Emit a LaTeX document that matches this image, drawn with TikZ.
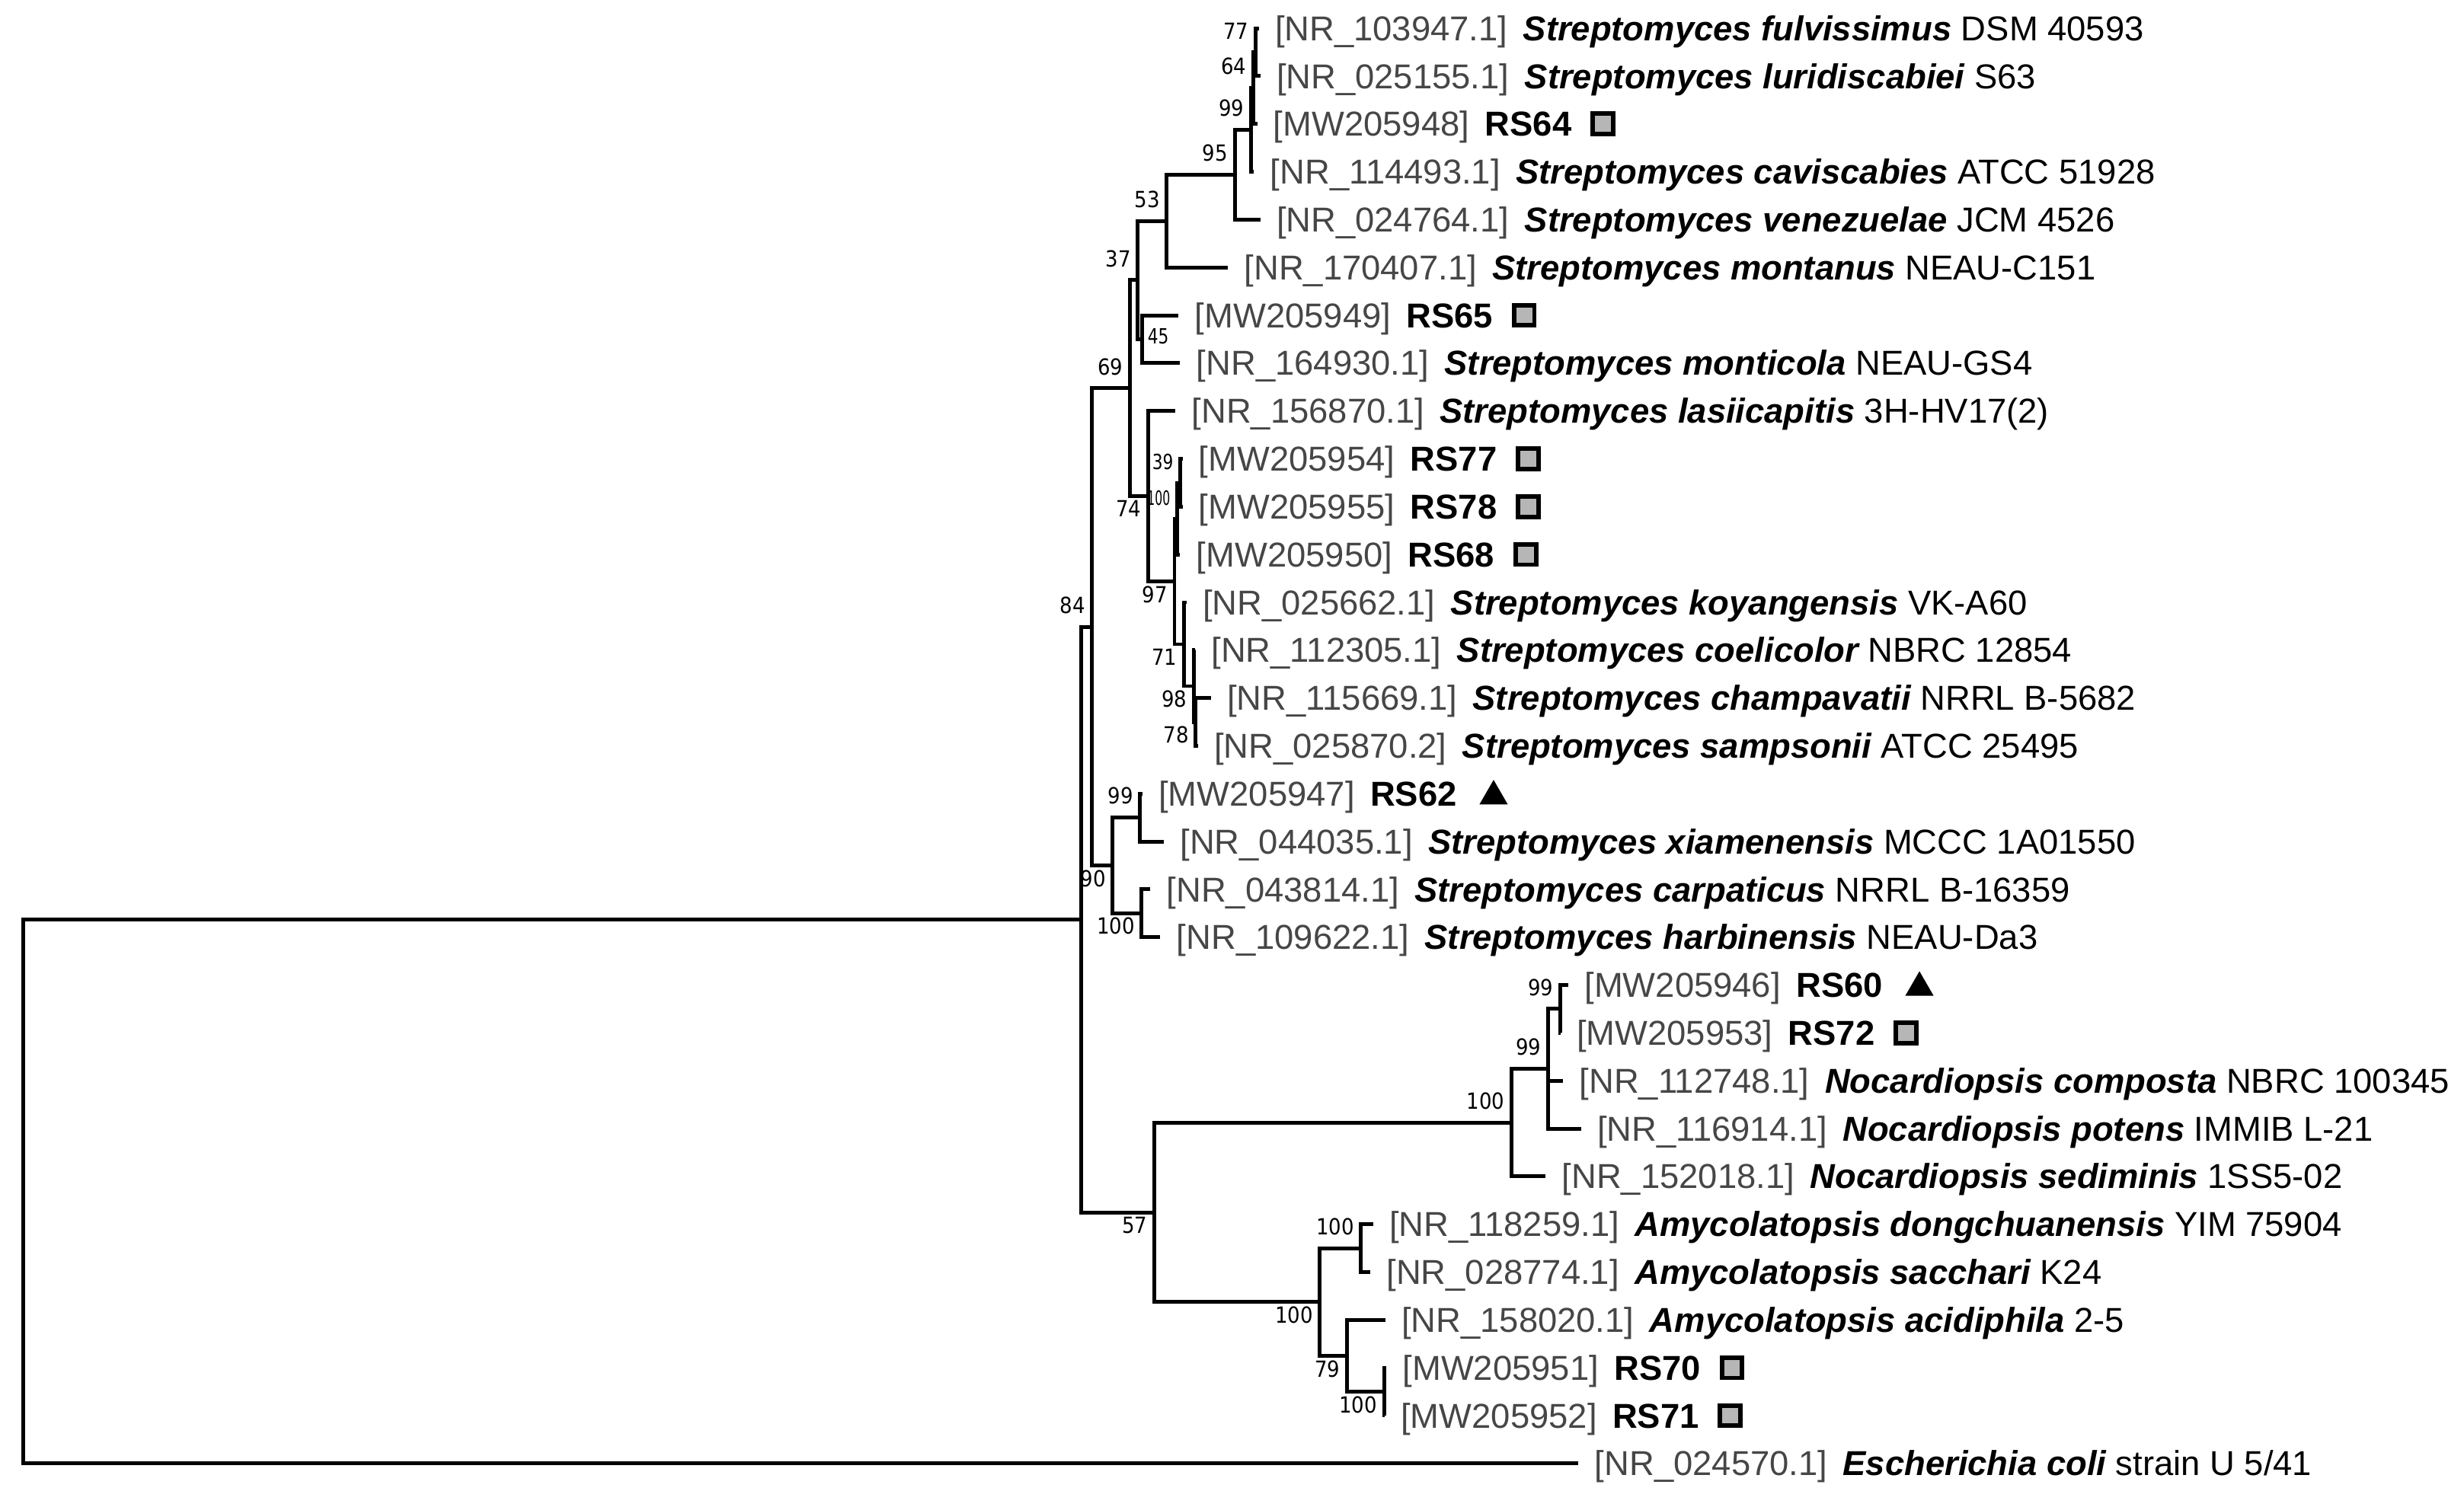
\documentclass[tikz,border=0pt]{standalone}
\usepackage{fontspec}
\setmainfont{Liberation Sans}
\newfontfamily\bsfont[FakeStretch=0.89]{DejaVu Sans}
\newfontfamily\bsfontc[FakeStretch=0.79]{DejaVu Sans}
\newfontfamily\bsfontt[FakeStretch=0.6]{DejaVu Sans}
\usetikzlibrary{shapes.geometric}
\definecolor{accgray}{RGB}{70,70,70}
\definecolor{markgray}{RGB}{182,182,182}
\newcommand{\myacc}[1]{{\color{accgray}[#1]}\hspace{0.45em}}
\newcommand{\mysp}[1]{{\bfseries\itshape #1}}
\newcommand{\mybd}[1]{{\bfseries #1}}
\begin{document}
\begin{tikzpicture}[x=0.5pt, y=-0.5pt,
  br/.style={line width=1.2pt},
  lab/.style={anchor=base west, inner sep=0pt, xshift=5pt, yshift=-3.9pt, font=\fontsize{11}{13}\selectfont},
  bsa/.style={anchor=south east, inner sep=0pt, xshift=-2pt, yshift=4pt, font=\bsfont\fontsize{7.07}{8}\selectfont},
  bsb/.style={anchor=north east, inner sep=0pt, xshift=-2pt, yshift=-1.25pt, font=\bsfont\fontsize{7.07}{8}\selectfont},
  bss/.style={inner sep=0pt, font=\bsfontc\fontsize{6.65}{7}\selectfont},
  sqmark/.style={draw=black, fill=markgray, line width=1.45pt, minimum size=6.45pt, inner sep=0pt, anchor=west, xshift=5.8pt},
  trimark/.style={fill=black, regular polygon, regular polygon sides=3, minimum size=10.4pt, inner sep=0pt, xshift=11.5pt, yshift=-0.8pt},
]
\useasboundingbox (0,0) rectangle (1568,959);

% ---------- leaves ----------
\coordinate (l1) at (801,18.0);
\coordinate (l2) at (802,48.45);
\coordinate (l3) at (800,78.9);
\coordinate (l4) at (798,109.35);
\coordinate (l5) at (802,139.8);
\coordinate (l6) at (781.4,170.25);
\coordinate (l7) at (750,200.7);
\coordinate (l8) at (751,231.15);
\coordinate (l9) at (748,261.6);
\coordinate (l10) at (752.5,292.05);
\coordinate (l11) at (752.5,322.5);
\coordinate (l12) at (751,352.95);
\coordinate (l13) at (755,383.4);
\coordinate (l14) at (760.5,413.85);
\coordinate (l15) at (770.6,444.3);
\coordinate (l16) at (762.3,474.75);
\coordinate (l17) at (727,505.2);
\coordinate (l18) at (740.6,535.65);
\coordinate (l19) at (732,566.1);
\coordinate (l20) at (738.4,596.55);
\coordinate (l21) at (998,627.0);
\coordinate (l22) at (993,657.45);
\coordinate (l23) at (994.7,687.9);
\coordinate (l24) at (1006,718.35);
\coordinate (l25) at (983.6,748.8);
\coordinate (l26) at (873.7,779.25);
\coordinate (l27) at (872,809.7);
\coordinate (l28) at (881.5,840.15);
\coordinate (l29) at (882.2,870.6);
\coordinate (l30) at (881.1,901.05);
\coordinate (l31) at (1004.5,931.5);

% ---------- internal nodes ----------
\coordinate (root) at (15,758.4);
\coordinate (v1) at (688,585.3);
\coordinate (n84) at (695,399.0);
\coordinate (n69) at (719,247.1);
\coordinate (n37) at (724,178.3);
\coordinate (n53) at (742.5,140.75);
\coordinate (n95) at (785.7,111.25);
\coordinate (n99c) at (796,82.7);
\coordinate (n64c) at (797.5,56.05);
\coordinate (n77c) at (799,33.2);
\coordinate (n45) at (727,215.9);
\coordinate (n74) at (730.5,315.85);
\coordinate (n97) at (747.4,370.1);
\coordinate (n100b) at (749,330.1);
\coordinate (n39) at (751,307.3);
\coordinate (n71) at (753.3,410.05);
\coordinate (n98) at (759.7,436.7);
\coordinate (n78) at (760.8,459.5);
\coordinate (n90) at (708.1,550.85);
\coordinate (n99x) at (725.4,520.4);
\coordinate (n100y) at (726.5,581.3);
\coordinate (n57) at (734.5,771.65);
\coordinate (n100n) at (961.8,714.55);
\coordinate (n99n) at (985,680.3);
\coordinate (n99r) at (992.8,642.2);
\coordinate (n100a) at (839.8,828.75);
\coordinate (n100d) at (866,794.5);
\coordinate (n79) at (857,863.0);
\coordinate (n100e) at (880.7,885.8);

% ---------- branches ----------
\draw[br] (root) |- (v1);
\draw[br] (root) |- (l31);
\draw[br] (v1) |- (n84);
\draw[br] (v1) |- (n57);
\draw[br] (n84) |- (n69);
\draw[br] (n84) |- (n90);
\draw[br] (n69) |- (n37);
\draw[br] (n69) |- (n74);
\draw[br] (n37) |- (n53);
\draw[br] (n37) |- (n45);
\draw[br] (n53) |- (n95);
\draw[br] (n53) |- (l6);
\draw[br] (n95) |- (n99c);
\draw[br] (n95) |- (l5);
\draw[br] (n99c) |- (n64c);
\draw[br] (n99c) |- (l4);
\draw[br] (n64c) |- (n77c);
\draw[br] (n64c) |- (l3);
\draw[br] (n77c) |- (l1);
\draw[br] (n77c) |- (l2);
\draw[br] (n45) |- (l7);
\draw[br] (n45) |- (l8);
\draw[br] (n74) |- (l9);
\draw[br] (n74) |- (n97);
\draw[br] (n97) |- (n100b);
\draw[br] (n97) |- (n71);
\draw[br] (n100b) |- (n39);
\draw[br] (n100b) |- (l12);
\draw[br] (n39) |- (l10);
\draw[br] (n39) |- (l11);
\draw[br] (n71) |- (l13);
\draw[br] (n71) |- (n98);
\draw[br] (n98) |- (l14);
\draw[br] (n98) |- (n78);
\draw[br] (n78) |- (l15);
\draw[br] (n78) |- (l16);
\draw[br] (n90) |- (n99x);
\draw[br] (n90) |- (n100y);
\draw[br] (n99x) |- (l17);
\draw[br] (n99x) |- (l18);
\draw[br] (n100y) |- (l19);
\draw[br] (n100y) |- (l20);
\draw[br] (n57) |- (n100n);
\draw[br] (n57) |- (n100a);
\draw[br] (n100n) |- (n99n);
\draw[br] (n100n) |- (l25);
\draw[br] (n99n) |- (n99r);
\draw[br] (n99n) |- (l23);
\draw[br] (n99n) |- (l24);
\draw[br] (n99r) |- (l21);
\draw[br] (n99r) |- (l22);
\draw[br] (n100a) |- (n100d);
\draw[br] (n100a) |- (n79);
\draw[br] (n100d) |- (l26);
\draw[br] (n100d) |- (l27);
\draw[br] (n79) |- (l28);
\draw[br] (n79) |- (n100e);
\draw[br] (n100e) |- (l29);
\draw[br] (n100e) |- (l30);

% ---------- bootstrap values ----------
\node[bsa] (b77) at (n77c) {77};
\node[bsa] (b64) at (n64c) {64};
\node[bsa] (b99c) at (n99c) {99};
\node[bsa] (b95) at (n95) {95};
\node[bsa] (b53) at (n53) {53};
\node[bsa] (b37) at (n37) {37};
\node[bss] (b45) at (737,214) {45};
\node[bsa] (b69) at (n69) {69};
\node[bsb] (b74) at (n74) {74};
\node[bsa, font=\bsfontc\fontsize{6.65}{7}\selectfont] (b39) at (n39) {39};
\node[bsa, font=\bsfontt\fontsize{6.3}{7}\selectfont] (b100b) at (n100b) {100};
\node[bsb] (b97) at (n97) {97};
\node[bsb] (b71) at (n71) {71};
\node[bsb] (b98) at (n98) {98};
\node[bsb] (b78) at (n78) {78};
\node[bsa] (b84) at (n84) {84};
\node[bsa] (b99x) at (n99x) {99};
\node[bsb] (b90) at (n90) {90};
\node[bsb] (b100y) at (n100y) {100};
\node[bsb] (b57) at (n57) {57};
\node[bsa] (b100n) at (n100n) {100};
\node[bsa] (b99n) at (n99n) {99};
\node[bsa] (b99r) at (n99r) {99};
\node[bsb] (b100a) at (n100a) {100};
\node[bsa] (b100d) at (n100d) {100};
\node[bsb] (b79) at (n79) {79};
\node[bsb] (b100e) at (n100e) {100};

% ---------- taxon labels ----------
\node[lab] (t1) at (l1) {\myacc{NR\_103947.1}\mysp{Streptomyces fulvissimus} DSM 40593};
\node[lab] (t2) at (l2) {\myacc{NR\_025155.1}\mysp{Streptomyces luridiscabiei} S63};
\node[lab] (t3) at (l3) {\myacc{MW205948}\mybd{RS64}};
\node[lab] (t4) at (l4) {\myacc{NR\_114493.1}\mysp{Streptomyces caviscabies} ATCC 51928};
\node[lab] (t5) at (l5) {\myacc{NR\_024764.1}\mysp{Streptomyces venezuelae} JCM 4526};
\node[lab] (t6) at (l6) {\myacc{NR\_170407.1}\mysp{Streptomyces montanus} NEAU-C151};
\node[lab] (t7) at (l7) {\myacc{MW205949}\mybd{RS65}};
\node[lab] (t8) at (l8) {\myacc{NR\_164930.1}\mysp{Streptomyces monticola} NEAU-GS4};
\node[lab] (t9) at (l9) {\myacc{NR\_156870.1}\mysp{Streptomyces lasiicapitis} 3H-HV17(2)};
\node[lab] (t10) at (l10) {\myacc{MW205954}\mybd{RS77}};
\node[lab] (t11) at (l11) {\myacc{MW205955}\mybd{RS78}};
\node[lab] (t12) at (l12) {\myacc{MW205950}\mybd{RS68}};
\node[lab] (t13) at (l13) {\myacc{NR\_025662.1}\mysp{Streptomyces koyangensis} VK-A60};
\node[lab] (t14) at (l14) {\myacc{NR\_112305.1}\mysp{Streptomyces coelicolor} NBRC 12854};
\node[lab] (t15) at (l15) {\myacc{NR\_115669.1}\mysp{Streptomyces champavatii} NRRL B-5682};
\node[lab] (t16) at (l16) {\myacc{NR\_025870.2}\mysp{Streptomyces sampsonii} ATCC 25495};
\node[lab] (t17) at (l17) {\myacc{MW205947}\mybd{RS62}};
\node[lab] (t18) at (l18) {\myacc{NR\_044035.1}\mysp{Streptomyces xiamenensis} MCCC 1A01550};
\node[lab] (t19) at (l19) {\myacc{NR\_043814.1}\mysp{Streptomyces carpaticus} NRRL B-16359};
\node[lab] (t20) at (l20) {\myacc{NR\_109622.1}\mysp{Streptomyces harbinensis} NEAU-Da3};
\node[lab] (t21) at (l21) {\myacc{MW205946}\mybd{RS60}};
\node[lab] (t22) at (l22) {\myacc{MW205953}\mybd{RS72}};
\node[lab] (t23) at (l23) {\myacc{NR\_112748.1}\mysp{Nocardiopsis composta} NBRC 100345};
\node[lab] (t24) at (l24) {\myacc{NR\_116914.1}\mysp{Nocardiopsis potens} IMMIB L-21};
\node[lab] (t25) at (l25) {\myacc{NR\_152018.1}\mysp{Nocardiopsis sediminis} 1SS5-02};
\node[lab] (t26) at (l26) {\myacc{NR\_118259.1}\mysp{Amycolatopsis dongchuanensis} YIM 75904};
\node[lab] (t27) at (l27) {\myacc{NR\_028774.1}\mysp{Amycolatopsis sacchari} K24};
\node[lab] (t28) at (l28) {\myacc{NR\_158020.1}\mysp{Amycolatopsis acidiphila} 2-5};
\node[lab] (t29) at (l29) {\myacc{MW205951}\mybd{RS70}};
\node[lab] (t30) at (l30) {\myacc{MW205952}\mybd{RS71}};
\node[lab] (t31) at (l31) {\myacc{NR\_024570.1}\mysp{Escherichia coli} strain U 5/41};

% ---------- markers ----------
\node[sqmark] (m3) at (t3.east |- l3) {};
\node[sqmark] (m7) at (t7.east |- l7) {};
\node[sqmark] (m10) at (t10.east |- l10) {};
\node[sqmark] (m11) at (t11.east |- l11) {};
\node[sqmark] (m12) at (t12.east |- l12) {};
\node[trimark] (m17) at (t17.east |- l17) {};
\node[trimark] (m21) at (t21.east |- l21) {};
\node[sqmark] (m22) at (t22.east |- l22) {};
\node[sqmark] (m29) at (t29.east |- l29) {};
\node[sqmark] (m30) at (t30.east |- l30) {};
\end{tikzpicture}
\end{document}
